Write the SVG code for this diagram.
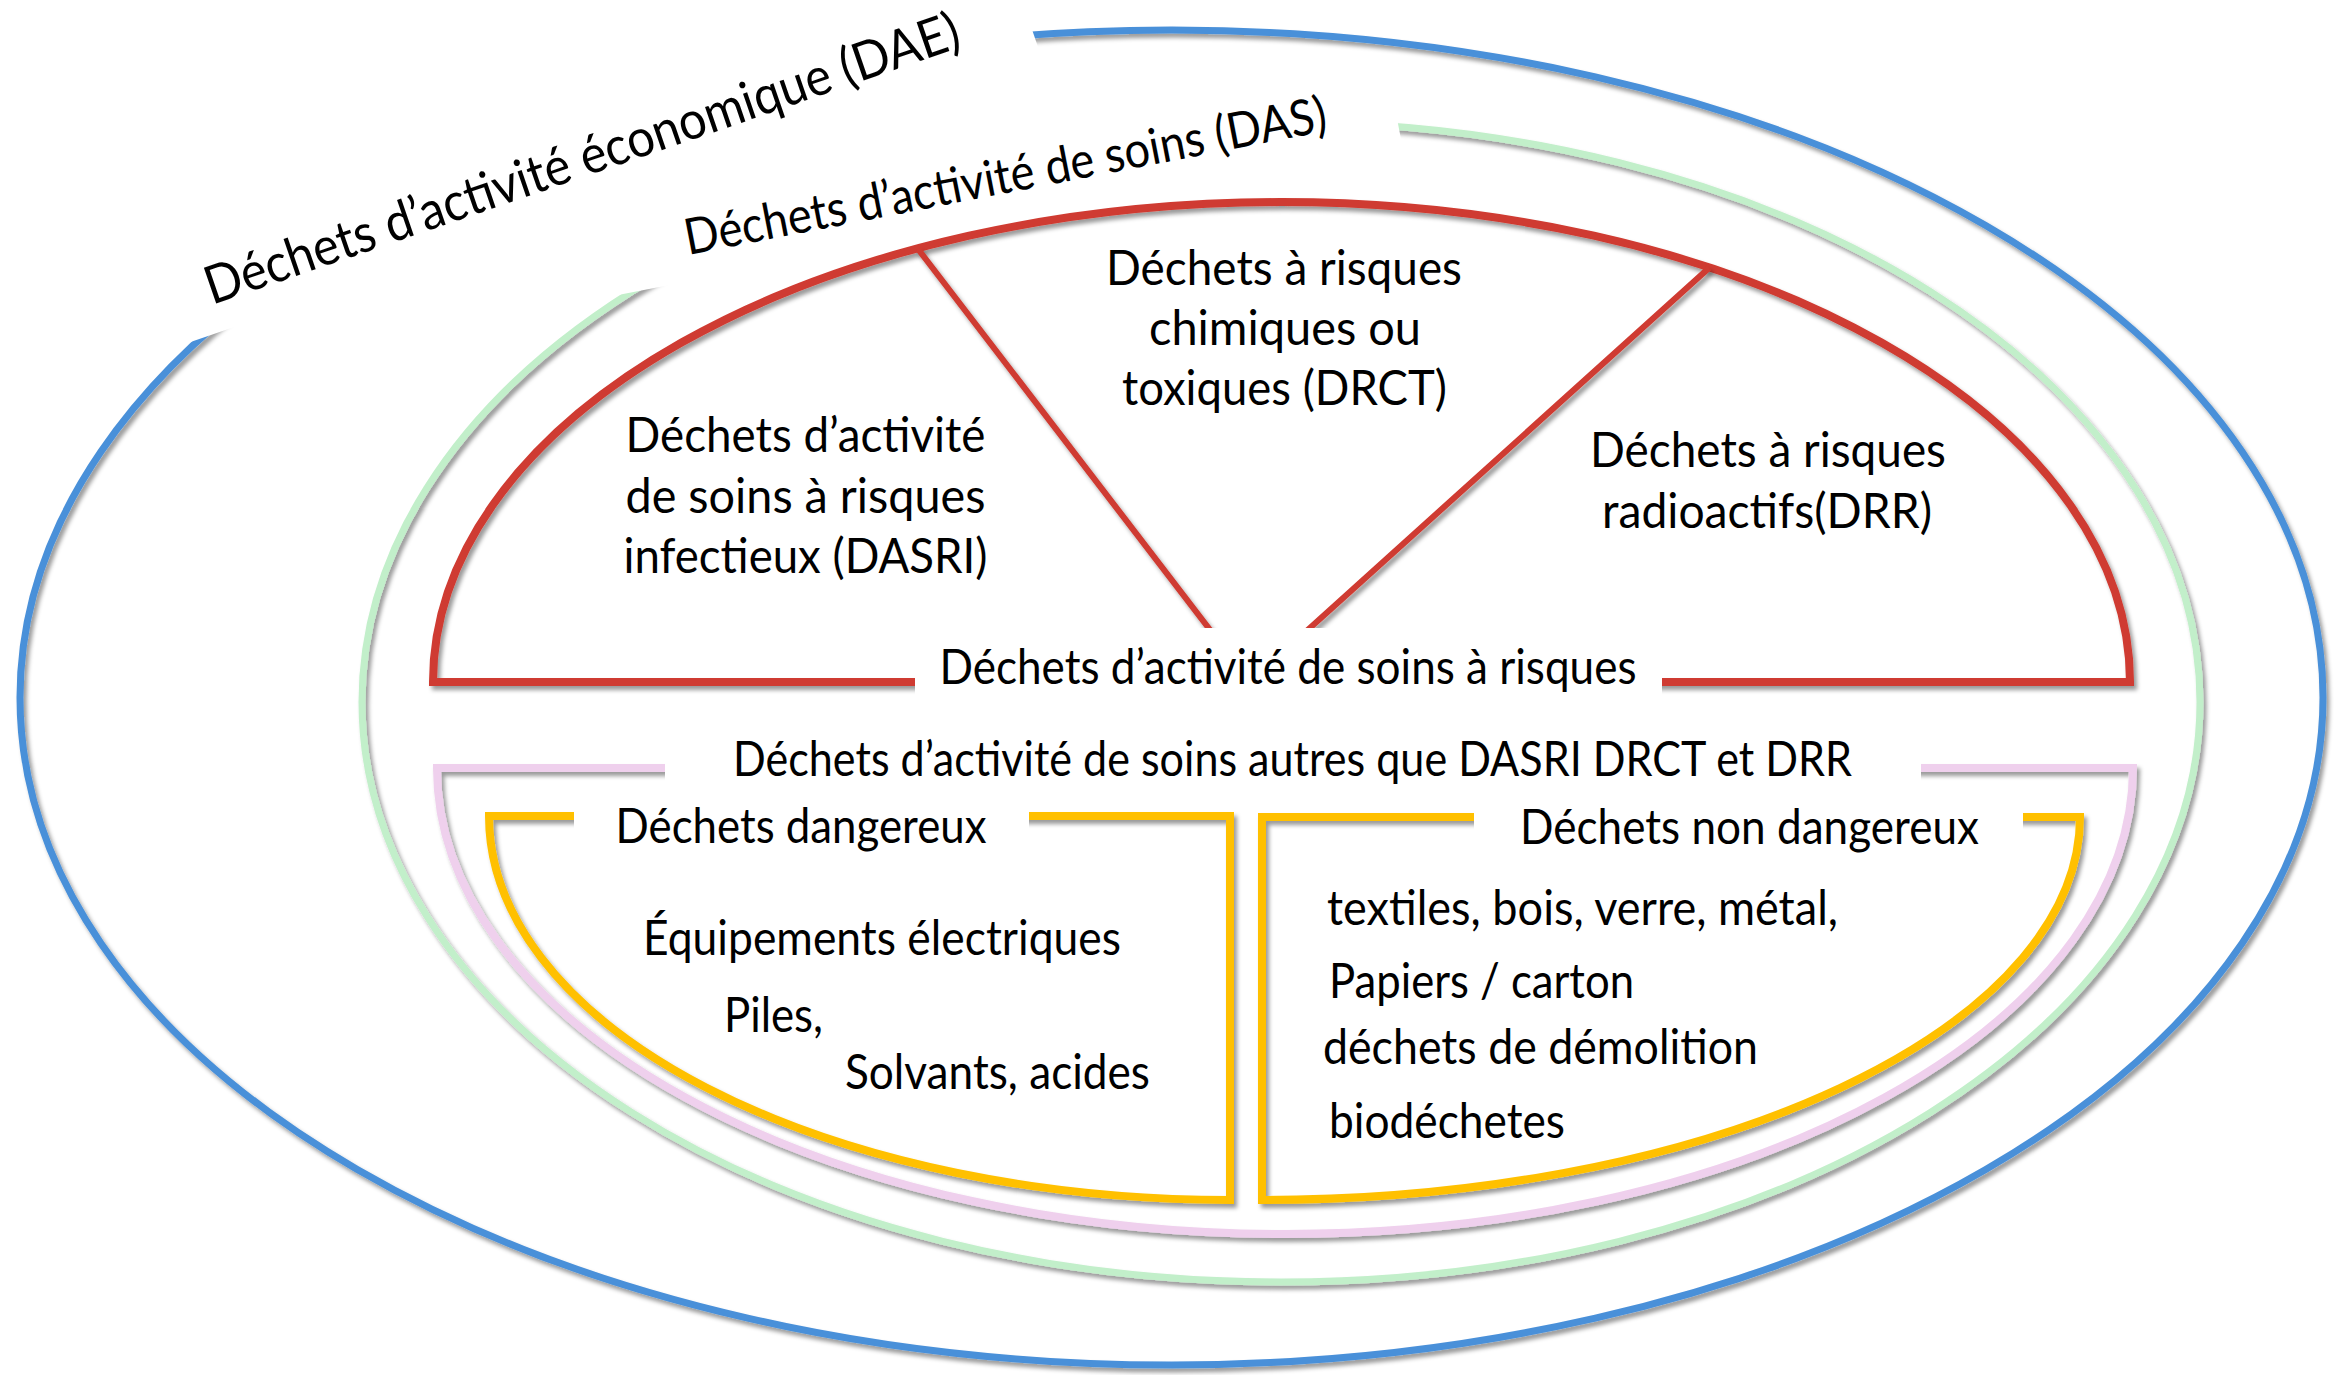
<svg xmlns="http://www.w3.org/2000/svg" width="2346" height="1375" viewBox="0 0 2346 1375">
<defs>
<filter id="sh" filterUnits="userSpaceOnUse" x="0" y="0" width="2346" height="1375">
<feDropShadow dx="3" dy="4" stdDeviation="2" flood-color="#000" flood-opacity="0.4"/>
</filter>
</defs>
<style>
.t{font-family:Lato,"Open Sans","Liberation Sans",sans-serif;font-size:49px;fill:#000}
.c{text-anchor:middle}
.ln{fill:none;filter:url(#sh);stroke-linejoin:miter;stroke-miterlimit:20}
.blue{stroke:#4a90d9;stroke-width:7}
.green{stroke:#c2efca;stroke-width:7}
.red{stroke:#cf3a30;stroke-width:8}
.redl{stroke:#cf3a30;stroke-width:6}
.pink{stroke:#efd0ed;stroke-width:8}
.yel{stroke:#ffc000;stroke-width:8}
.box{fill:#fff}
</style>
<rect width="2346" height="1375" fill="#fff"/>

<g id="dae">
<ellipse class="ln blue" cx="1171.5" cy="697.5" rx="1151.5" ry="667.5"/>
<g transform="translate(212 305) rotate(-19)">
<rect class="box" x="-40" y="-66" width="905" height="94"/>
<text class="t" x="0" y="0" style="font-size:53px" textLength="795" lengthAdjust="spacingAndGlyphs">Déchets d’activité économique (DAE)</text>
</g>
</g>

<g id="das">
<ellipse class="ln green" cx="1281" cy="702" rx="919" ry="580"/>
<g transform="translate(688 255) rotate(-11)">
<rect class="box" x="-75" y="-60" width="797" height="86"/>
<text class="t" x="0" y="0" style="font-size:50px" textLength="653" lengthAdjust="spacingAndGlyphs">Déchets d’activité de soins (DAS)</text>
</g>
</g>

<g id="das-risques">
<path class="ln red" d="M433 682 A848.5 480 0 0 1 2130 682 Z"/>
<g id="connectors">
<path class="ln redl" d="M918 249 L1250 682 M1709 268 L1250 682"/>
</g>
<rect class="box" x="915" y="628" width="747" height="80"/>
<text class="t c" x="1288" y="684" textLength="697" lengthAdjust="spacingAndGlyphs">Déchets d’activité de soins à risques</text>
</g>

<g id="dasri">
<text class="t c" x="805.5" y="452" textLength="360" lengthAdjust="spacingAndGlyphs">Déchets d’activité</text>
<text class="t c" x="805.5" y="513" textLength="360" lengthAdjust="spacingAndGlyphs">de soins à risques</text>
<text class="t c" x="805.5" y="573" textLength="364" lengthAdjust="spacingAndGlyphs">infectieux (DASRI)</text>
</g>

<g id="drct">
<text class="t c" x="1284" y="285" textLength="356" lengthAdjust="spacingAndGlyphs">Déchets à risques</text>
<text class="t c" x="1285" y="345" textLength="272" lengthAdjust="spacingAndGlyphs">chimiques ou</text>
<text class="t c" x="1284.5" y="405" textLength="325" lengthAdjust="spacingAndGlyphs">toxiques (DRCT)</text>
</g>

<g id="drr">
<text class="t c" x="1768" y="467" textLength="356" lengthAdjust="spacingAndGlyphs">Déchets à risques</text>
<text class="t c" x="1767" y="528" textLength="330" lengthAdjust="spacingAndGlyphs">radioactifs(DRR)</text>
</g>

<g id="das-autres">
<path class="ln pink" d="M437 768 H2133 A848 466 0 0 1 437 768 Z"/>
<rect class="box" x="665" y="735" width="1256" height="66"/>
<text class="t c" x="1292.5" y="776" textLength="1119" lengthAdjust="spacingAndGlyphs">Déchets d’activité de soins autres que DASRI DRCT et DRR</text>
</g>

<g id="dangereux">
<path class="ln yel" d="M489 816 H1230 V1200 A741 384 0 0 1 489 816 Z"/>
<rect class="box" x="574" y="800" width="455" height="70"/>
<text class="t c" x="801" y="843" textLength="371" lengthAdjust="spacingAndGlyphs">Déchets dangereux</text>
<text class="t" x="643" y="955" textLength="478" lengthAdjust="spacingAndGlyphs">Équipements électriques</text>
<text class="t" x="724" y="1032" textLength="99" lengthAdjust="spacingAndGlyphs">Piles,</text>
<text class="t" x="845" y="1089" textLength="305" lengthAdjust="spacingAndGlyphs">Solvants, acides</text>
</g>

<g id="non-dangereux">
<path class="ln yel" d="M1262 817 H2080 A818 383 0 0 1 1262 1200 Z"/>
<rect class="box" x="1474" y="800" width="549" height="70"/>
<text class="t c" x="1749.5" y="844" textLength="459" lengthAdjust="spacingAndGlyphs">Déchets non dangereux</text>
<text class="t" x="1327" y="925" textLength="511" lengthAdjust="spacingAndGlyphs">textiles, bois, verre, métal,</text>
<text class="t" x="1329" y="998" textLength="305" lengthAdjust="spacingAndGlyphs">Papiers / carton</text>
<text class="t" x="1323" y="1064" textLength="435" lengthAdjust="spacingAndGlyphs">déchets de démolition</text>
<text class="t" x="1329" y="1138" textLength="236" lengthAdjust="spacingAndGlyphs">biodéchetes</text>
</g>
</svg>
